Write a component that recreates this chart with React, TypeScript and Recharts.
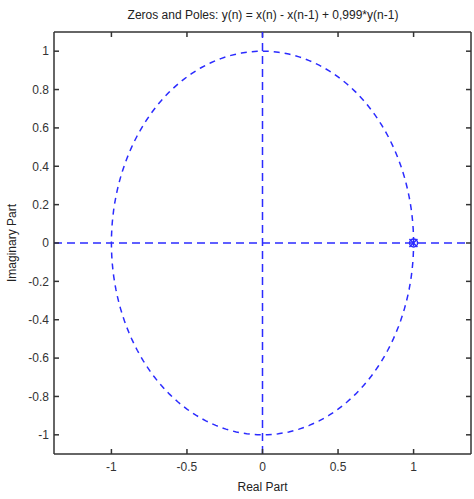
import React from 'react';
import * as R from 'recharts';
import { ScatterChart, Scatter, XAxis, YAxis, ReferenceLine } from 'recharts';

const xTicks = [-1, -0.5, 0, 0.5, 1];
const yTicks = [-1, -0.8, -0.6, -0.4, -0.2, 0, 0.2, 0.4, 0.6, 0.8, 1];
const xDomain = [-1.38, 1.38];
const yDomain = [-1.1, 1.1];
const zeros = [{ x: 1, y: 0 }];
const poles = [{ x: 0.999, y: 0 }];
const circleAngles = Array.from({ length: 181 }, (_, i) => i * 2);
const unitCircle = circleAngles.map((a) => ({
  x: Math.cos((a * Math.PI) / 180),
  y: Math.sin((a * Math.PI) / 180),
}));

const BLUE = '#2b2bff';
const AXIS = '#333';
const FONT = 'Liberation Sans, Arial, sans-serif';
const MARGIN = { top: 32, right: 2, bottom: 0, left: 0 };
const W = 474;
const H = 499;
const YAXIS_W = 54;
const RAXIS_W = 1;
const XAXIS_H = 45;

const ZeroShape = (p: any) => (
  <circle cx={p.cx} cy={p.cy} r={4} fill="none" stroke={BLUE} strokeWidth={1.5} />
);
const PoleShape = (p: any) => (
  <g stroke={BLUE} strokeWidth={1.5}>
    <line x1={p.cx - 4} y1={p.cy - 4} x2={p.cx + 4} y2={p.cy + 4} />
    <line x1={p.cx - 4} y1={p.cy + 4} x2={p.cx + 4} y2={p.cy - 4} />
  </g>
);

function useArea() {
  const hook: any = (R as any).usePlotArea;
  const area = typeof hook === 'function' ? hook() : null;
  if (area && area.width) return area;
  return {
    x: MARGIN.left + YAXIS_W,
    y: MARGIN.top,
    width: W - MARGIN.left - MARGIN.right - YAXIS_W - RAXIS_W,
    height: H - MARGIN.top - MARGIN.bottom - XAXIS_H,
  };
}

const TopFrame = () => {
  const a = useArea();
  const sx = (v: number) => a.x + ((v - xDomain[0]) / (xDomain[1] - xDomain[0])) * a.width;
  return (
    <g stroke={AXIS} strokeWidth={1.5}>
      <line x1={a.x} y1={a.y} x2={a.x + a.width} y2={a.y} />
      {xTicks.map((t) => (
        <line key={t} x1={sx(t)} y1={a.y} x2={sx(t)} y2={a.y + 5} />
      ))}
    </g>
  );
};

export default function App() {
  return (
    <div style={{ position: 'absolute', left: 0, top: 0, background: '#fff' }}>
      <ScatterChart width={W} height={H} margin={MARGIN}>
        <XAxis
          xAxisId="b"
          type="number"
          dataKey="x"
          domain={xDomain}
          allowDataOverflow
          ticks={xTicks}
          height={XAXIS_H}
          tickSize={-5}
          tickMargin={13}
          stroke={AXIS}
          strokeWidth={1.5}
          tick={{ fill: '#333', fontSize: 12, fontFamily: FONT }}
          label={{ value: 'Real Part', position: 'insideBottom', offset: 8, fill: '#222', fontSize: 12, fontFamily: FONT }}
        />
        <YAxis
          yAxisId="l"
          type="number"
          dataKey="y"
          domain={yDomain}
          allowDataOverflow
          ticks={yTicks}
          width={YAXIS_W}
          tickSize={-5}
          tickMargin={10}
          stroke={AXIS}
          strokeWidth={1.5}
          tick={{ fill: '#333', fontSize: 12, fontFamily: FONT }}
        />
        <YAxis
          yAxisId="r"
          orientation="right"
          type="number"
          dataKey="y"
          domain={yDomain}
          allowDataOverflow
          ticks={yTicks}
          width={RAXIS_W}
          tickSize={-5}
          tickFormatter={() => ''}
          stroke={AXIS}
          strokeWidth={1.5}
        />
        <ReferenceLine xAxisId="b" yAxisId="l" y={0} stroke={BLUE} strokeWidth={1.5} strokeDasharray="8 5" />
        <ReferenceLine xAxisId="b" yAxisId="l" x={0} stroke={BLUE} strokeWidth={1.5} strokeDasharray="8 5" />
        <Scatter
          xAxisId="b"
          yAxisId="l"
          data={unitCircle}
          line={{ stroke: BLUE, strokeWidth: 1.5, strokeDasharray: '6 5' }}
          shape={() => null}
          isAnimationActive={false}
        />
        <Scatter xAxisId="b" yAxisId="l" data={zeros} shape={ZeroShape} isAnimationActive={false} />
        <Scatter xAxisId="b" yAxisId="l" data={poles} shape={PoleShape} isAnimationActive={false} />
        <Scatter xAxisId="b" yAxisId="r" data={zeros} shape={() => null} isAnimationActive={false} />
        <TopFrame />
        <text x={263} y={19} textAnchor="middle" fontSize={12} fontFamily={FONT} fill="#222">
          Zeros and Poles: y(n) = x(n) - x(n-1) + 0,999*y(n-1)
        </text>
        <text
          x={16}
          y={243}
          textAnchor="middle"
          fontSize={12}
          fontFamily={FONT}
          fill="#222"
          transform="rotate(-90 16 243)"
        >
          Imaginary Part
        </text>
      </ScatterChart>
    </div>
  );
}
